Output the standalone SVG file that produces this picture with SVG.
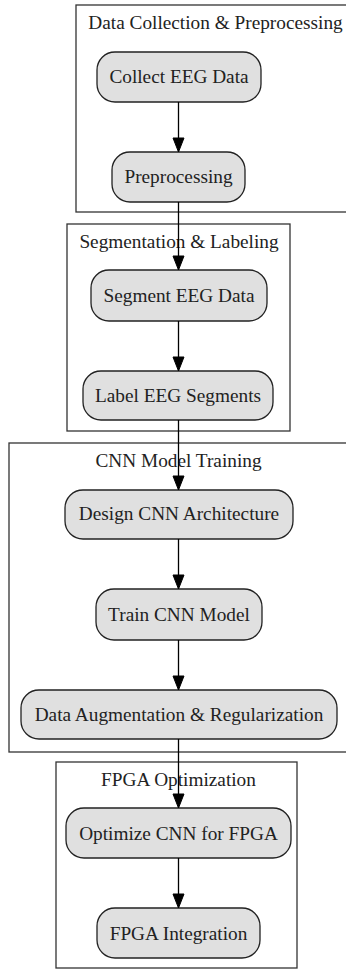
<svg xmlns="http://www.w3.org/2000/svg" width="346" height="970" viewBox="0 0 346 970">
<style>
.cl{fill:#fff;stroke:#333;stroke-width:1.3}
.nd{fill:#e0e0e0;stroke:#222;stroke-width:1.3}
.t{font-family:"Liberation Serif","Times New Roman",serif;font-size:19.3px;fill:#222;text-anchor:middle}
.e{stroke:#000;stroke-width:1.3;fill:none}
.ah{fill:#000;stroke:#000;stroke-width:1}
</style>
<rect width="346" height="970" fill="#fff"/>
<g id="cluster_data">
<rect class="cl" x="76" y="5" width="280" height="207"/>
<text class="t" x="215.5" y="29">Data Collection &amp; Preprocessing</text>
</g>
<g id="cluster_seg">
<rect class="cl" x="67" y="224" width="223" height="207"/>
<text class="t" x="179" y="248">Segmentation &amp; Labeling</text>
</g>
<g id="cluster_cnn">
<rect class="cl" x="9" y="443" width="347" height="309"/>
<text class="t" x="178.5" y="467">CNN Model Training</text>
</g>
<g id="cluster_fpga">
<rect class="cl" x="56" y="762" width="241" height="206"/>
<text class="t" x="178.5" y="786">FPGA Optimization</text>
</g>
<g id="collect">
<rect class="nd" x="97" y="52" width="164" height="50" rx="18"/>
<text class="t" x="179" y="83">Collect EEG Data</text>
</g>
<g id="preproc">
<rect class="nd" x="112" y="152" width="133" height="50" rx="18"/>
<text class="t" x="178.5" y="183">Preprocessing</text>
</g>
<g id="segment">
<rect class="nd" x="91" y="270" width="176" height="51" rx="18"/>
<text class="t" x="179" y="302">Segment EEG Data</text>
</g>
<g id="label">
<rect class="nd" x="83" y="371" width="190" height="49" rx="18"/>
<text class="t" x="178" y="402">Label EEG Segments</text>
</g>
<g id="design">
<rect class="nd" x="65" y="490" width="228" height="49" rx="18"/>
<text class="t" x="179" y="520">Design CNN Architecture</text>
</g>
<g id="train">
<rect class="nd" x="96" y="589" width="166" height="51" rx="18"/>
<text class="t" x="179" y="621">Train CNN Model</text>
</g>
<g id="augment">
<rect class="nd" x="21" y="690" width="316" height="49" rx="18"/>
<text class="t" x="179" y="721">Data Augmentation &amp; Regularization</text>
</g>
<g id="optimize">
<rect class="nd" x="66" y="808" width="225" height="50" rx="18"/>
<text class="t" x="178.5" y="840">Optimize CNN for FPGA</text>
</g>
<g id="integration">
<rect class="nd" x="97" y="908" width="163" height="50" rx="18"/>
<text class="t" x="178.5" y="940">FPGA Integration</text>
</g>
<g id="edges">
<path class="e" d="M178.5,102V138"/><polygon class="ah" points="173,138 184,138 178.5,152"/>
<path class="e" d="M178.5,202V256"/><polygon class="ah" points="173,256 184,256 178.5,270"/>
<path class="e" d="M178.5,321V357"/><polygon class="ah" points="173,357 184,357 178.5,371"/>
<path class="e" d="M178.5,420V476"/><polygon class="ah" points="173,476 184,476 178.5,490"/>
<path class="e" d="M178.5,539V575"/><polygon class="ah" points="173,575 184,575 178.5,589"/>
<path class="e" d="M178.5,640V676"/><polygon class="ah" points="173,676 184,676 178.5,690"/>
<path class="e" d="M178.5,739V794"/><polygon class="ah" points="173,794 184,794 178.5,808"/>
<path class="e" d="M178.5,858V894"/><polygon class="ah" points="173,894 184,894 178.5,908"/>
</g>
</svg>
